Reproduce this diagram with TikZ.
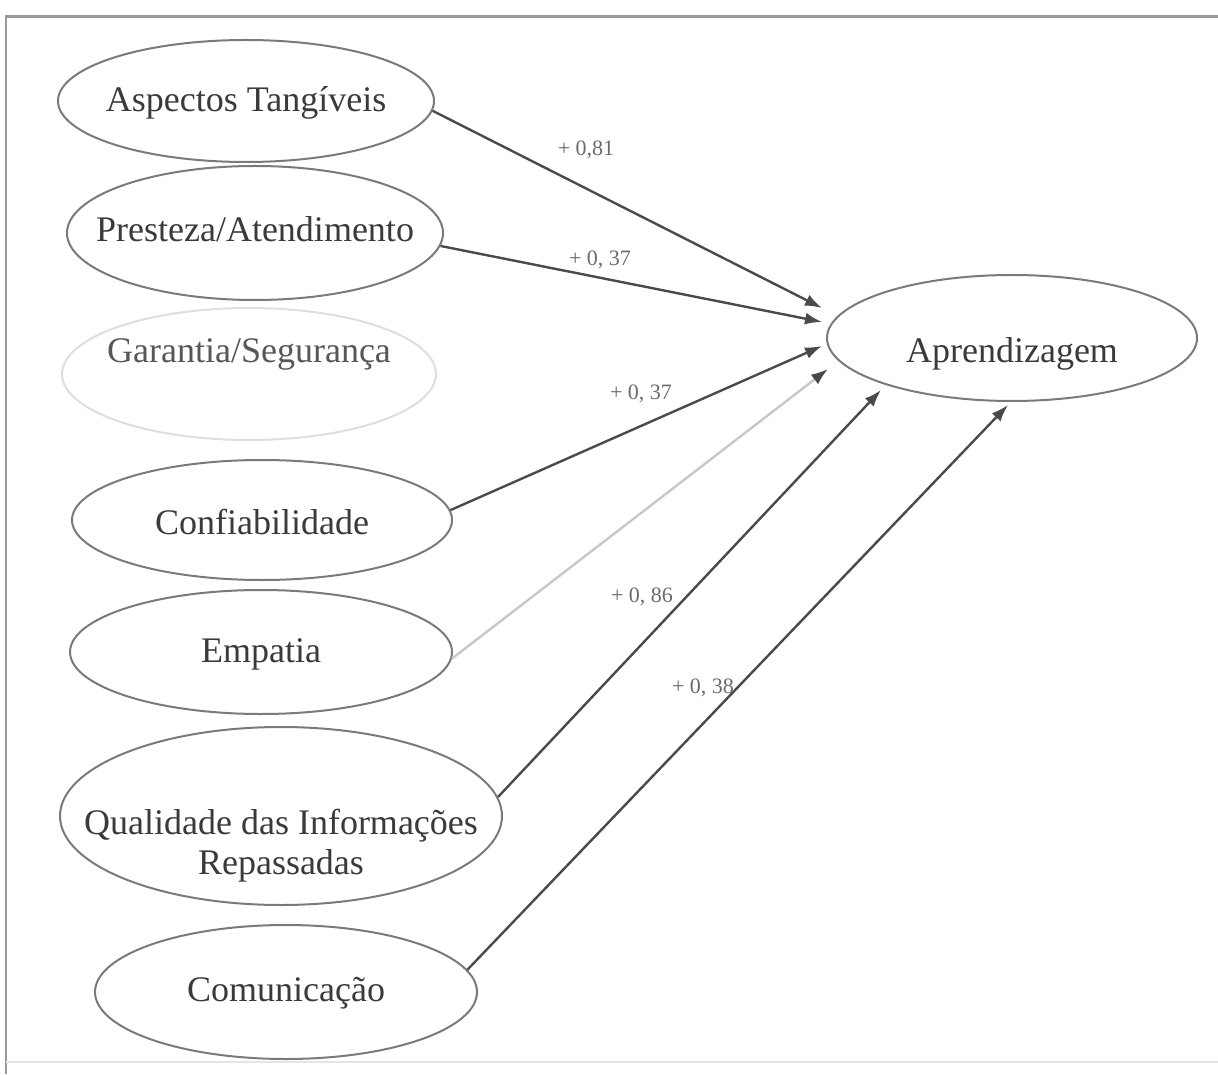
\documentclass[tikz,border=0pt]{standalone}
\usepackage{fontspec}
\setmainfont{Liberation Serif}
\usetikzlibrary{shapes.geometric,arrows.meta}
\definecolor{txtc}{HTML}{3A3A3A}
\definecolor{ellc}{HTML}{7A7A7A}
\definecolor{ellfaint}{HTML}{DEDEDE}
\definecolor{arrc}{HTML}{4A4A4A}
\definecolor{arrl}{HTML}{C8C8C8}
\definecolor{framec}{HTML}{9A9A9A}
\begin{document}
\begin{tikzpicture}[x=0.5pt,y=-0.5pt,
  ell/.style={ellipse, draw=ellc, line width=1pt, inner sep=0pt},
  lbl/.style={font=\fontsize{18}{20}\selectfont, text=txtc, align=center},
  coef/.style={font=\fontsize{11}{12}\selectfont, text=txtc!75},
  arr/.style={draw=arrc, line width=1.2pt, -{Latex[length=8.5pt,width=6pt,color=arrc]}}]
\useasboundingbox (0,0) rectangle (1218,1074);
% frame
\draw[framec, line width=1.5pt] (5,17) -- (1218,17);
\draw[framec, line width=1pt] (6,17) -- (6,1074);
\draw[black!10, line width=0.8pt] (6,1062) -- (1218,1062);
% ellipses
\node[ell, minimum width=188pt, minimum height=61pt,
  label={[lbl,yshift=-1pt]center:Aspectos Tangíveis}] (asp) at (246,101) {};
\node[ell, minimum width=188pt, minimum height=67pt,
  label={[lbl,yshift=2pt]center:Presteza/Atendimento}] (pre) at (255,233) {};
\node[ell, draw=ellfaint, minimum width=187pt, minimum height=66pt,
  label={[lbl,text=txtc!85,yshift=10pt]center:Garantia/Segurança}] (gar) at (249,374) {};
\node[ell, minimum width=190pt, minimum height=60pt,
  label={[lbl,yshift=-1pt]center:Confiabilidade}] (con) at (262,520) {};
\node[ell, minimum width=191pt, minimum height=62pt,
  label={[lbl,yshift=-1pt]center:Empatia}] (emp) at (261,652) {};
\node[ell, minimum width=221pt, minimum height=89pt,
  label={[lbl,yshift=-15pt]center:Qualidade das Informações\\Repassadas}] (qua) at (281,816) {};
\node[ell, minimum width=191pt, minimum height=67pt,
  label={[lbl,yshift=-0.5pt]center:Comunicação}] (com) at (286,992) {};
\node[ell, minimum width=185pt, minimum height=63pt,
  label={[lbl,yshift=-8pt]center:Aprendizagem}] (apr) at (1012,338) {};
% arrow ends at Aprendizagem
\coordinate (e1) at (822,308);
\coordinate (e2) at (822,322);
\coordinate (e3) at (822,346);
\coordinate (e4) at (828,369);
\coordinate (e5) at (881,390);
\coordinate (e6) at (1008,405);
% connectors
\draw[arr] (asp.-3.4) -- (e1);
\draw[arr] (pre.-4.6) -- (e2);
\draw[arr] (con.3.6) -- (e3);
\draw[arr, draw=arrl] (emp.-2) -- (e4);
\draw[arr] (qua.5) -- (e5);
\draw[arr] (com.7) -- (e6);
% coefficients
\node[coef] (c1) at (586,150) {+ 0,81};
\node[coef] (c2) at (600,260) {+ 0, 37};
\node[coef] (c3) at (641,394) {+ 0, 37};
\node[coef] (c4) at (642,597) {+ 0, 86};
\node[coef] (c5) at (703,688) {+ 0, 38};
\end{tikzpicture}
\end{document}
